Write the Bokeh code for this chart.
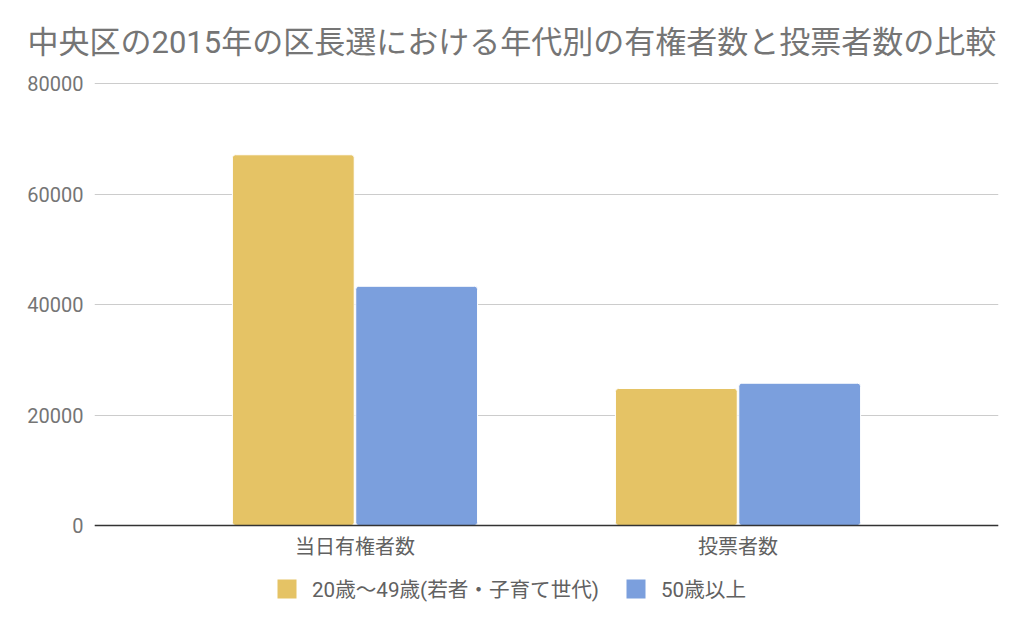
from bokeh.plotting import figure
from bokeh.models import ColumnDataSource, FactorRange, FixedTicker, BasicTickFormatter, Legend, LegendItem, Range1d
from bokeh.transform import dodge
from bokeh.embed import file_html
from bokeh.resources import INLINE

categories = ["当日有権者数", "投票者数"]
young = [67100, 24800]
senior = [43300, 25750]
series_names = ["20歳〜49歳(若者・子育て世代)", "50歳以上"]
y_ticks = [0, 20000, 40000, 60000, 80000]
title_text = "中央区の2015年の区長選における年代別の有権者数と投票者数の比較"

colors = ["#E5C365", "#7B9FDD"]
FONT = "Roboto, 'Noto Sans CJK JP'"

# layout in pixels
W, H = 1008, 608
TOP, BOTTOM = 81, 3
PX_PER_80K = 442          # pixels between 0 and 80000
HEAD = 2                  # pixels above the 80000 line
frame_h = H - TOP - BOTTOM
units_per_px = 80000 / PX_PER_80K
y_max = 80000 + HEAD * units_per_px
y_min = -(frame_h - PX_PER_80K - HEAD) * units_per_px

src = ColumnDataSource(dict(cat=categories, young=young, senior=senior))

p = figure(
    x_range=FactorRange(*categories, range_padding=0.18, range_padding_units="absolute"),
    y_range=Range1d(y_min, y_max),
    width=W, height=H,
    output_backend="svg", toolbar_location=None,
    min_border_left=94, min_border_right=10, min_border_top=TOP, min_border_bottom=BOTTOM,
)
p.outline_line_color = None
p.background_fill_color = "white"

p.title.text = title_text
p.title.text_font = FONT
p.title.text_font_size = "31px"
p.title.text_font_style = "normal"
p.title.text_color = "#757575"
p.title.align = "left"
p.title.offset = -67
p.title.standoff = 41

r1 = p.vbar(x=dodge("cat", -0.161, range=p.x_range), top="young", width=0.318, source=src,
            fill_color=colors[0], line_color="white", line_width=1, border_radius=3)
r2 = p.vbar(x=dodge("cat", 0.161, range=p.x_range), top="senior", width=0.318, source=src,
            fill_color=colors[1], line_color="white", line_width=1, border_radius=3)

# axes
p.yaxis.ticker = FixedTicker(ticks=y_ticks)
p.yaxis.formatter = BasicTickFormatter(use_scientific=False)
p.yaxis.axis_line_color = None
p.yaxis.major_tick_line_color = None
p.yaxis.minor_tick_line_color = None
p.yaxis.major_label_text_font = FONT
p.yaxis.major_label_text_font_size = "20px"
p.yaxis.major_label_text_color = "#757575"
p.yaxis.major_label_standoff = 5

p.xaxis.fixed_location = 0
p.xaxis.axis_line_color = "#333333"
p.xaxis.axis_line_width = 1.5
p.xaxis.major_tick_line_color = None
p.xaxis.minor_tick_line_color = None
p.xaxis.major_label_text_font = FONT
p.xaxis.major_label_text_font_size = "20px"
p.xaxis.major_label_text_color = "#616161"
p.xaxis.major_label_standoff = 3

p.xgrid.grid_line_color = None
p.ygrid.grid_line_color = "#CCCCCC"
p.ygrid.grid_line_width = 1

legend = Legend(
    items=[LegendItem(label=series_names[0], renderers=[r1]),
           LegendItem(label=series_names[1], renderers=[r2])],
    orientation="horizontal", location=(180, 2),
    glyph_width=25, glyph_height=25, label_standoff=13, spacing=24,
    label_text_font=FONT, label_text_font_size="20.6px", label_text_color="#616161",
    border_line_color=None, background_fill_alpha=0, margin=0, padding=4,
)
p.add_layout(legend, "center")

open("out.html", "w").write(file_html(p, INLINE))
